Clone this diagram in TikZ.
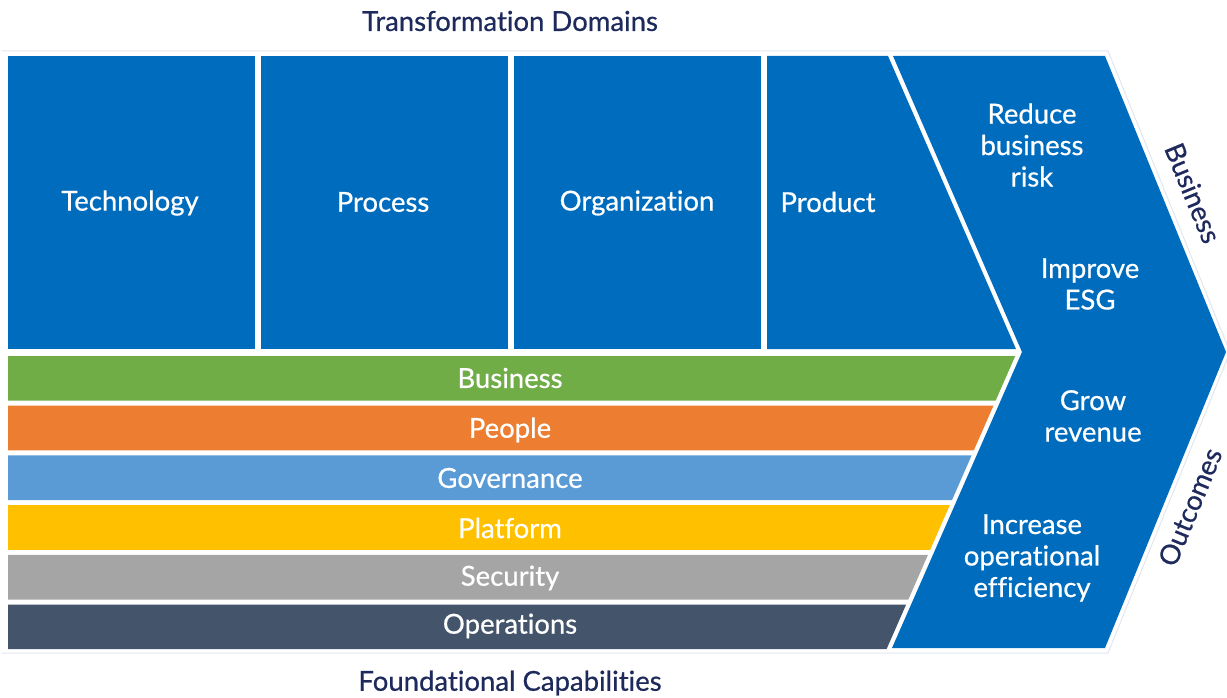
\documentclass[tikz,border=0pt]{standalone}
\usepackage{fontspec}
\setmainfont{Lato}
\newfontfamily\medfont{Lato}[FakeBold=0.6,Ligatures=NoCommon]
\definecolor{tdblue}{RGB}{0,108,190}
\definecolor{cgreen}{RGB}{112,173,71}
\definecolor{corange}{RGB}{237,125,49}
\definecolor{clblue}{RGB}{91,155,213}
\definecolor{cyellow}{RGB}{255,192,0}
\definecolor{cgray}{RGB}{165,165,165}
\definecolor{cdark}{RGB}{68,84,106}
\definecolor{navy}{RGB}{30,42,92}
\definecolor{edge}{RGB}{226,230,236}
\begin{document}
\begin{tikzpicture}[x=1pt,y=-1pt,
  wtext/.style={text=white,font=\medfont\fontsize{27.5}{31.5}\selectfont,align=center,inner sep=0pt},
  ntext/.style={text=navy,font=\medfont\fontsize{27.5}{31.5}\selectfont,inner sep=0pt}]
\useasboundingbox (0,0) rectangle (1227,698);
% faint outline
\draw[edge,line width=1pt] (2,51) -- (1108,51) -- (1230,352) -- (1108,653) -- (2,653);
% domain boxes
\fill[tdblue] (8,56) rectangle (255,349);
\fill[tdblue] (261,56) rectangle (508,349);
\fill[tdblue] (514,56) rectangle (761,349);
\fill[tdblue] (767,56) -- (888,56) -- (1016,349) -- (767,349) -- cycle;
% outcome chevron
\fill[tdblue] (893,56) -- (1105,56) -- (1226,352) -- (1105,648) -- (892,648) -- (1022,352) -- cycle;
% capability bars
\foreach \c [count=\i from 0] in {cgreen,corange,clblue,cyellow,cgray,cdark}{
  \pgfmathsetmacro{\ya}{356+49.7*\i}
  \pgfmathsetmacro{\yb}{\ya+44.7}
  \pgfmathsetmacro{\xa}{1017-(\ya-352)*0.439}
  \pgfmathsetmacro{\xb}{1017-(\yb-352)*0.439}
  \fill[\c] (8,\ya) -- (\xa,\ya) -- (\xb,\yb) -- (8,\yb) -- cycle;
}
% titles
\node[ntext] (td) at (510,21) {Transformation Domains};
\node[ntext] (fc) at (510,683) {Foundational Capabilities};
% domain labels
\node[wtext] (tech) at (130,203) {Technology};
\node[wtext] (proc) at (383,202) {Process};
\node[wtext] (org) at (637,203) {Organization};
\node[wtext] (prod) at (828,202) {Product};
% capability labels
\node[wtext] (cb) at (510,378) {Business};
\node[wtext] (cp) at (510,430) {People};
\node[wtext] (cg) at (510,478) {Governance};
\node[wtext] (cpl) at (510,528) {Platform};
\node[wtext] (cs) at (510,578) {Security};
\node[wtext] (co) at (510,626) {Operations};
% outcomes
\node[wtext] (o1) at (1032,145) {Reduce\\business\\risk};
\node[wtext] (o2) at (1090,284) {Improve\\ESG};
\node[wtext] (o3) at (1093,416) {Grow\\revenue};
\node[wtext] (o4) at (1032,558) {Increase\\operational\\efficiency};
% rotated labels
\node[ntext,rotate=-67.6] (bz) at (1193,193) {Business};
\node[ntext,rotate=67.6] (oc) at (1190,507) {Outcomes};
\end{tikzpicture}
\end{document}
